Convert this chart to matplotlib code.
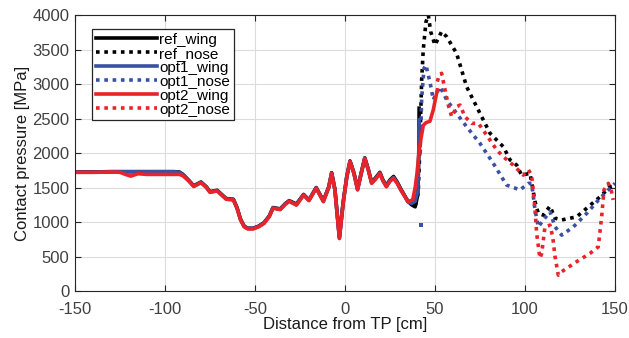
import matplotlib.pyplot as plt
import numpy as np

plt.rcParams['font.family'] = ['Liberation Sans', 'DejaVu Sans']
plt.rcParams['axes.unicode_minus'] = False

# wing curves
x_opt2_wing = [-150, -140, -130, -125, -122, -119, -115, -110, -100, -95, -92, -90, -87, -84, -80, -77,
               -75, -71, -66, -62, -60, -58, -56, -54, -51, -48, -45, -42, -40, -36, -33, -31, -27,
               -23, -20, -16, -12, -9, -7.4, -5.6, -3.1, -1, 1, 2.8, 5, 7, 9, 11, 13, 14.8, 17, 19.4,
               21, 23, 25, 27, 29, 31, 33, 35, 37.6, 39, 40, 41.5, 43.5, 45, 47.2, 49, 51.3]
y_opt2_wing = [1720, 1720, 1725, 1720, 1690, 1665, 1700, 1690, 1690, 1690, 1690, 1670, 1600, 1515, 1570,
               1500, 1430, 1450, 1330, 1320, 1200, 1030, 930, 900, 900, 930, 980, 1080, 1200, 1180,
               1260, 1300, 1245, 1390, 1310, 1490, 1295, 1500, 1705, 1465, 760, 1275, 1650, 1875, 1700,
               1465, 1700, 1920, 1750, 1560, 1620, 1705, 1600, 1510, 1590, 1635, 1560, 1465, 1380, 1295,
               1320, 1500, 1705, 2100, 2400, 2440, 2460, 2620, 2915]

x_ref_wing = [-150, -140, -130, -125, -120, -110, -100, -95, -92, -90, -87, -84, -80, -77, -75, -71, -66,
              -62, -60, -58, -56, -54, -51, -48, -45, -42, -40, -36, -33, -31, -27, -23, -20, -16, -12,
              -9, -7.4, -5.6, -3.1, -1, 1, 2.8, 5, 7, 9, 11, 13, 14.8, 17, 19.4, 21, 23, 25, 27, 29,
              31, 33, 35, 37, 39, 40.5, 41, 41.2]
y_ref_wing = [1725, 1725, 1730, 1730, 1730, 1730, 1730, 1730, 1725, 1690, 1610, 1525, 1580, 1510, 1440,
              1460, 1340, 1330, 1210, 1040, 940, 910, 910, 940, 990, 1090, 1210, 1190, 1270, 1310,
              1260, 1400, 1320, 1500, 1310, 1510, 1715, 1475, 780, 1290, 1660, 1885, 1710, 1480, 1710,
              1930, 1760, 1575, 1640, 1720, 1615, 1530, 1610, 1660, 1580, 1480, 1390, 1300, 1250, 1220,
              1400, 2000, 2650]

x_opt1_wing = [-150, -140, -130, -125, -120, -110, -100, -95, -92, -90, -87, -84, -80, -77, -75, -71, -66,
               -62, -60, -58, -56, -54, -51, -48, -45, -42, -40, -36, -33, -31, -27, -23, -20, -16, -12,
               -9, -7.4, -5.6, -3.1, -1, 1, 2.8, 5, 7, 9, 11, 13, 14.8, 17, 19.4, 21, 23, 25, 27, 29,
               31, 33, 35, 37, 39, 40.5, 41, 41.2]
y_opt1_wing = [1722, 1722, 1728, 1728, 1728, 1728, 1728, 1728, 1722, 1685, 1605, 1520, 1575, 1505, 1435,
               1455, 1335, 1325, 1205, 1035, 935, 905, 905, 935, 985, 1085, 1205, 1185, 1265, 1305,
               1250, 1395, 1315, 1495, 1300, 1505, 1710, 1470, 770, 1280, 1655, 1880, 1705, 1470, 1705,
               1925, 1755, 1570, 1630, 1710, 1605, 1520, 1600, 1645, 1570, 1470, 1385, 1290, 1270, 1300,
               1450, 2000, 2480]

# nose curves
x_ref_nose = [37, 39, 40.7, 41.5, 42.6, 43.5, 45, 46.3, 47.6, 50, 53.7, 56.5, 62, 67.6, 75, 80.6, 88,
              91.7, 95.4, 98.1, 102.8, 105.6, 107.4, 110.2, 113.9, 116.7, 120.4, 128.7, 134.3, 141.7,
              147.2, 150]
y_ref_nose = [1300, 1220, 1440, 2000, 3060, 3500, 3900, 4000, 3760, 3565, 3760, 3685, 3445, 2960, 2575,
              2285, 2090, 1900, 1825, 1680, 1705, 1295, 1125, 1100, 1230, 1055, 1030, 1075, 1200, 1365,
              1510, 1530]

# isolated first point of opt1_nose, then the connected part
x_opt1_nose_start = [42]
y_opt1_nose_start = [950]
x_opt1_nose = [41.8, 42.6, 43.9, 45, 46.3, 48.1, 49, 52.8, 56.5, 62, 67.6, 75, 82.4, 89.8, 92.6,
               97.2, 101.9, 103.7, 105.6, 107.4, 110.2, 113.9, 116.7, 120.4, 126.9, 134.3, 141.7, 150]
y_opt1_nose = [2000, 2790, 3225, 3275, 3130, 2915, 2770, 2960, 2770, 2575, 2380, 2140, 1850, 1535,
               1510, 1465, 1560, 1560, 1175, 930, 1030, 1150, 930, 810, 930, 1125, 1345, 1560]

x_opt2_nose = [51.3, 52.4, 53.7, 55.6, 57.4, 59.3, 62, 63.9, 66.7, 70.4, 74.1, 78.7, 84.3, 88, 93.5,
               99.1, 101.9, 103.7, 105.6, 106.5, 108.3, 109.3, 111.1, 113.9, 115.4, 116.7, 118.5, 120.4,
               128.7, 136.1, 140.7, 142.6, 143.9, 146.3, 148.1, 149]
y_opt2_nose = [3035, 3130, 3155, 2915, 2695, 2525, 2670, 2695, 2525, 2430, 2430, 2260, 2045, 1945, 1825,
               1680, 1755, 1680, 1175, 835, 475, 545, 930, 955, 785, 500, 230, 280, 425, 545, 640, 1075,
               1465, 1560, 1440, 1320]

c_blue = '#3a50a4'
c_red = '#e8232a'

fig = plt.figure(figsize=(6.29, 3.38), dpi=100)
ax = fig.add_axes([0.1192, 0.139, 0.8585, 0.8166])

lw = 2.6
dots = (0, (1, 1.3))
ax.plot(x_ref_wing, y_ref_wing, color='black', lw=lw, label='ref_wing')
ax.plot(x_ref_nose, y_ref_nose, color='black', lw=lw, ls=dots, label='ref_nose')
ax.plot(x_opt1_wing, y_opt1_wing, color=c_blue, lw=lw, label='opt1_wing')
ax.plot(x_opt1_nose, y_opt1_nose, color=c_blue, lw=lw, ls=dots, label='opt1_nose')
ax.plot(x_opt1_nose_start, y_opt1_nose_start, color=c_blue, ls='none', marker='s', ms=2.5, mew=0)
ax.plot(x_opt2_wing, y_opt2_wing, color=c_red, lw=lw, label='opt2_wing')
ax.plot(x_opt2_nose, y_opt2_nose, color=c_red, lw=lw, ls=dots, label='opt2_nose')

ax.set_xlim(-150, 150)
ax.set_ylim(0, 4000)
ax.set_xticks(np.arange(-150, 151, 50))
ax.set_yticks(np.arange(0, 4001, 500))
ax.grid(True, color='#dcdcdc', lw=0.8)
ax.set_axisbelow(True)
ax.tick_params(direction='in', top=True, right=True, labelsize=12, colors='#262626',
               labelcolor='#404040', length=4)
ax.tick_params(axis='x', pad=8)
ax.tick_params(axis='y', pad=4)
for s in ax.spines.values():
    s.set_color('#262626')
    s.set_linewidth(0.8)

ax.set_xlabel('Distance from TP [cm]', fontsize=12, labelpad=0, color='#1a1a1a')
ax.set_ylabel('Contact pressure [MPa]', fontsize=12, labelpad=2, color='#1a1a1a')

leg = ax.legend(loc='upper left', bbox_to_anchor=(0.031, 0.95), fontsize=11, frameon=True,
                fancybox=False, edgecolor='#262626', framealpha=1, labelspacing=0.0,
                handlelength=4.0, handletextpad=0.15, borderpad=0.25, borderaxespad=0)
leg.get_frame().set_linewidth(0.9)

plt.savefig('out.png', dpi=100)
